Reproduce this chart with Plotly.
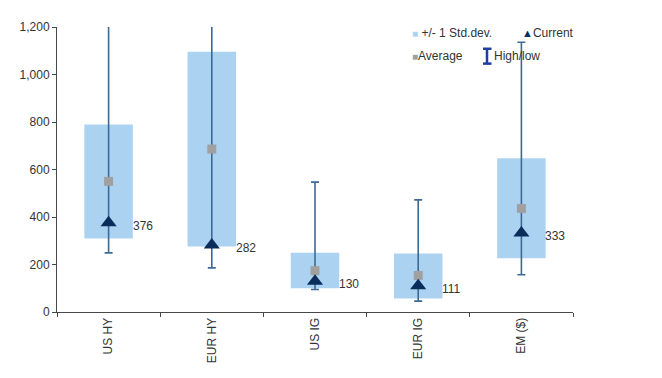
import plotly.graph_objects as go

categories = ["US HY", "EUR HY", "US IG", "EUR IG", "EM ($)"]
std_low = [310, 276, 100, 57, 226]
std_high = [789, 1096, 250, 246, 647]
average = [550, 686, 174, 154, 436]
current = [376, 282, 130, 111, 333]
high = [1400, 1400, 547, 472, 1136]
low = [249, 186, 95, 46, 157]
y_ticks = [0, 200, 400, 600, 800, 1000, 1200]
y_tick_text = ["0", "200", "400", "600", "800", "1,000", "1,200"]

BAR = "#ABD3F1"
LINE = "#3C6A96"
NAVY = "#0A2D5C"
GREY = "#A0A0A0"
IBEAM = "#1F3F9A"
AXIS = "#484848"
FONT = "Liberation Sans"

fig = go.Figure()
fig.add_trace(go.Bar(
    x=categories, y=[h - l for h, l in zip(std_high, std_low)], base=std_low,
    marker=dict(color=BAR, line=dict(width=0)), width=0.47, showlegend=False,
    hoverinfo="skip"))
fig.add_trace(go.Scatter(
    x=categories, y=average, mode="markers", marker=dict(opacity=0, size=1),
    error_y=dict(type="data", symmetric=False,
                 array=[h - a for h, a in zip(high, average)],
                 arrayminus=[a - l for a, l in zip(average, low)],
                 color=LINE, thickness=1.6, width=4),
    showlegend=False, hoverinfo="skip"))
fig.add_trace(go.Scatter(
    x=categories, y=average, mode="markers",
    marker=dict(symbol="square", size=9, color=GREY), showlegend=False))
fig.add_trace(go.Scatter(
    x=categories, y=current, mode="markers",
    marker=dict(symbol="triangle-up", size=14, color=NAVY), showlegend=False))

for c, v in zip(categories, current):
    fig.add_annotation(x=c, y=v, text=str(v), showarrow=False, xanchor="left",
                       xshift=22, yshift=-3, font=dict(family=FONT, size=12, color="#333333"))

# legend drawn manually (paper coords of the plot area: 516 x 288 px)
leg_font = dict(family=FONT, size=12, color="#333333")
def px(x):
    return (x - 57) / 516.0
def py(y):
    return (312 - y) / 288.0

fig.add_annotation(xref="paper", yref="paper", x=px(410), y=py(30), xanchor="left", yanchor="middle",
                   text="<span style='color:%s;font-size:10px'>■</span> +/- 1 Std.dev." % BAR,
                   showarrow=False, font=leg_font)
fig.add_annotation(xref="paper", yref="paper", x=px(520), y=py(30), xanchor="left", yanchor="middle",
                   text="<span style='color:%s;font-size:11px'>▲</span>Current" % NAVY,
                   showarrow=False, font=leg_font)
fig.add_annotation(xref="paper", yref="paper", x=px(410), y=py(53), xanchor="left", yanchor="middle",
                   text="<span style='color:%s;font-size:10px'>■</span>Average" % GREY,
                   showarrow=False, font=leg_font)
fig.add_annotation(xref="paper", yref="paper", x=px(492), y=py(53), xanchor="left", yanchor="middle",
                   text="High/low", showarrow=False, font=leg_font)
# I-beam symbol
fig.add_shape(type="line", xref="paper", yref="paper", x0=px(487), x1=px(487), y0=py(46), y1=py(61),
              line=dict(color=IBEAM, width=2.5))
fig.add_shape(type="line", xref="paper", yref="paper", x0=px(483), x1=px(491.5), y0=py(46), y1=py(46),
              line=dict(color=IBEAM, width=2.5))
fig.add_shape(type="line", xref="paper", yref="paper", x0=px(483), x1=px(491.5), y0=py(61), y1=py(61),
              line=dict(color=IBEAM, width=2.5))

# page body has an 8px margin, so the figure is offset by 8px
fig.update_layout(
    width=654, height=370,
    margin=dict(l=49, r=89, t=16, b=66),
    plot_bgcolor="white", paper_bgcolor="white",
    font=dict(family=FONT, size=12, color="#333333"),
    showlegend=False,
    xaxis=dict(type="category", range=[-0.5, 4.5], tickangle=-90,
               showline=True, linecolor=AXIS, linewidth=1,
               ticks="outside", tickson="boundaries", ticklen=4, tickcolor=AXIS,
               showgrid=False, tickfont=dict(family=FONT, size=12, color="#333333")),
    yaxis=dict(range=[0, 1200], tickvals=y_ticks, ticktext=y_tick_text,
               showline=True, linecolor=AXIS, linewidth=1,
               ticks="outside", ticklen=4, tickcolor=AXIS,
               showgrid=False, zeroline=False,
               tickfont=dict(family=FONT, size=12, color="#333333")),
)

fig.write_html("out.html")
